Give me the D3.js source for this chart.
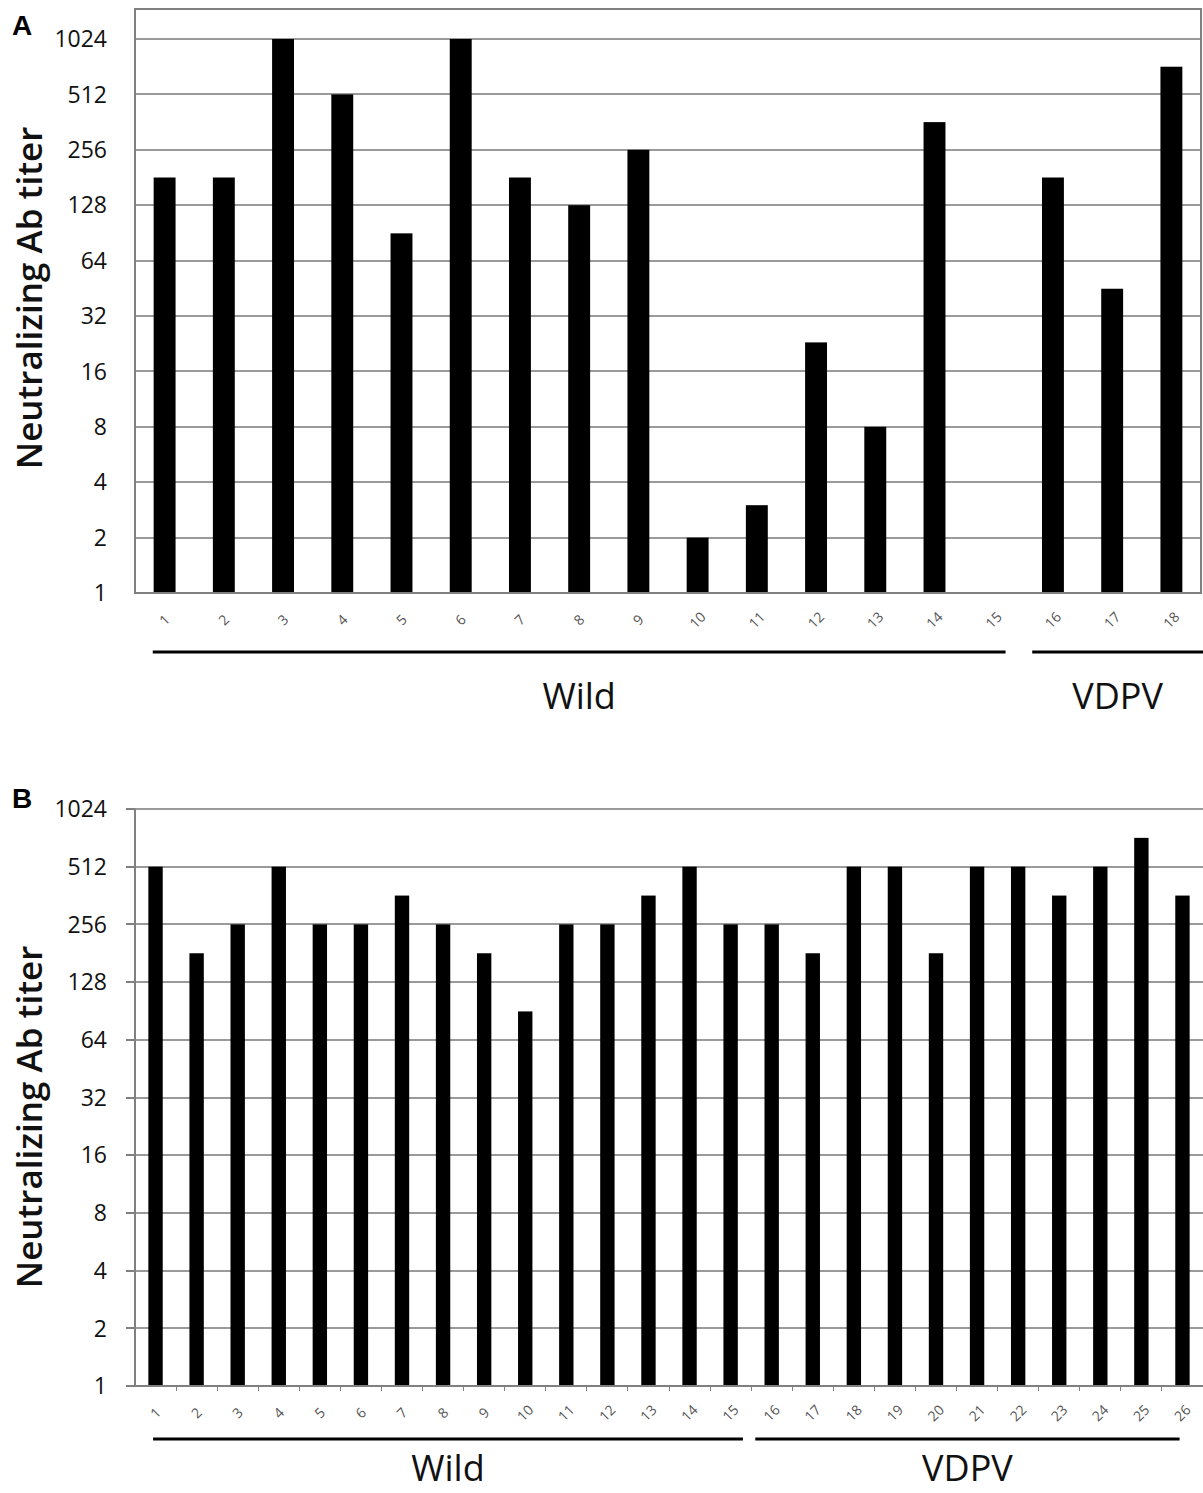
<!DOCTYPE html>
<html>
  <head>
    <meta charset="utf-8">
    <title>Neutralizing Ab titer</title>
    <script type="text/javascript" src="https://cdn.jsdelivr.net/npm/d3@7"></script>
    <style type="text/css">

body {
  margin: 0;
  background: #fff;
}

svg {
  display: block;
  font-family: "Open Sans", sans-serif;
}

.grid line {
  stroke: #9a9a9a;
  stroke-width: 2px;
  shape-rendering: crispEdges;
}

.frame {
  fill: none;
  stroke: #808080;
  stroke-width: 2px;
  shape-rendering: crispEdges;
}

.bar {
  fill: #000;
}

.ytick {
  font-size: 23px;
  fill: #111;
}

.xtick {
  font-size: 14px;
  fill: #555;
}

.ytitle {
  font-size: 35px;
  font-weight: 600;
  fill: #111;
}

.panel {
  font-family: "Liberation Sans", Arial, sans-serif;
  font-size: 28px;
  font-weight: bold;
}

.group line {
  stroke: #000;
  stroke-width: 3px;
}

.group text {
  font-size: 36px;
  fill: #111;
}

    </style>
  </head>
  <body>
    <script type="text/javascript">

// panel A
var catsA = d3.range(1, 19);
var titersA = [181, 181, 1024, 512, 90, 1024, 181, 128, 256, 2, 3, 23, 8, 362, 1, 181, 45, 724];
var groupsA = [
  {label: "Wild", from: 0.8, to: 15.2},
  {label: "VDPV", from: 15.65, to: 18.55}
];

// panel B
var catsB = d3.range(1, 27);
var titersB = [512, 181, 256, 512, 256, 256, 362, 256, 181, 90, 256, 256, 362, 512, 256,
               256, 181, 512, 512, 181, 512, 512, 362, 512, 724, 362];
var groupsB = [
  {label: "Wild", from: 0.94, to: 15.3},
  {label: "VDPV", from: 15.6, to: 25.93}
];

var yTicks = [1, 2, 4, 8, 16, 32, 64, 128, 256, 512, 1024];

var W = 1203, H = 1493;

var svg = d3.select("body")
  .append("svg")
    .attr("width", W)
    .attr("height", H);

function panel(opt) {
  var g = svg.append("g");

  var x = d3.scaleBand()
      .domain(opt.cats)
      .range([opt.left, opt.right])
      .paddingInner(opt.pad)
      .paddingOuter(opt.pad / 2);

  // category index (1-based, at band centres) -> x
  var xi = d3.scaleLinear()
      .domain([1, opt.cats.length])
      .range([x(1) + x.bandwidth() / 2, x(opt.cats.length) + x.bandwidth() / 2]);

  var y = d3.scaleLog()
      .base(2)
      .domain([1, 1024])
      .range([opt.bottom, opt.y1024]);

  g.append("g")
      .attr("class", "grid")
    .selectAll("line")
      .data(yTicks.slice(1))
    .enter().append("line")
      .attr("x1", opt.left - opt.tick)
      .attr("x2", opt.right)
      .attr("y1", function(d) { return y(d); })
      .attr("y2", function(d) { return y(d); });

  g.selectAll("rect.bar")
      .data(opt.cats)
    .enter().append("rect")
      .attr("class", "bar")
      .attr("x", function(d) { return x(d); })
      .attr("width", x.bandwidth())
      .attr("y", function(d, i) { return y(opt.values[i]); })
      .attr("height", function(d, i) { return opt.bottom - y(opt.values[i]); });

  if (opt.box) {
    g.append("rect")
        .attr("class", "frame")
        .attr("x", opt.left)
        .attr("y", opt.top)
        .attr("width", opt.right - opt.left)
        .attr("height", opt.bottom - opt.top);
  } else {
    g.append("path")
        .attr("class", "frame")
        .attr("d", "M" + opt.left + "," + opt.top + "V" + opt.bottom + "H" + opt.right);
    // y tick marks
    g.selectAll("line.yt")
        .data(yTicks)
      .enter().append("line")
        .attr("class", "frame")
        .attr("x1", opt.left - opt.tick)
        .attr("x2", opt.left)
        .attr("y1", function(d) { return y(d); })
        .attr("y2", function(d) { return y(d); });
    // x tick marks at category boundaries
    g.selectAll("line.xt")
        .data(opt.cats)
      .enter().append("line")
        .attr("class", "frame")
        .style("stroke-width", "1px")
        .attr("x1", function(d) { return x(d) + x.bandwidth() + x.step() * opt.pad / 2; })
        .attr("x2", function(d) { return x(d) + x.bandwidth() + x.step() * opt.pad / 2; })
        .attr("y1", opt.bottom)
        .attr("y2", opt.bottom + 5);
  }

  g.selectAll("text.ytick")
      .data(yTicks)
    .enter().append("text")
      .attr("class", "ytick")
      .attr("x", opt.left - 28)
      .attr("y", function(d) { return y(d); })
      .attr("dy", ".36em")
      .attr("text-anchor", "end")
      .text(function(d) { return d; });

  g.selectAll("text.xtick")
      .data(opt.cats)
    .enter().append("text")
      .attr("class", "xtick")
      .attr("text-anchor", "middle")
      .attr("transform", function(d) {
        return "translate(" + (x(d) + x.bandwidth() / 2) + "," + (opt.bottom + 27) + ") rotate(-45)";
      })
      .attr("dy", ".35em")
      .text(function(d) { return d; });

  g.append("text")
      .attr("class", "ytitle")
      .attr("text-anchor", "middle")
      .attr("transform", "translate(" + 30 + "," + opt.titleY + ") rotate(-90)")
      .attr("dy", ".35em")
      .text("Neutralizing Ab titer");

  g.append("text")
      .attr("class", "panel")
      .attr("x", 12)
      .attr("y", opt.letterY)
      .text(opt.letter);

  var grp = g.selectAll("g.group")
      .data(opt.groups)
    .enter().append("g")
      .attr("class", "group");

  grp.append("line")
      .attr("x1", function(d) { return xi(d.from); })
      .attr("x2", function(d) { return Math.min(W, xi(d.to)); })
      .attr("y1", opt.lineY)
      .attr("y2", opt.lineY);

  grp.append("text")
      .attr("text-anchor", "middle")
      .attr("x", function(d) { return (xi(d.from) + Math.min(W, xi(d.to))) / 2; })
      .attr("y", opt.labelY)
      .text(function(d) { return d.label; });
}

panel({
  letter: "A", letterY: 35,
  cats: catsA, values: titersA, groups: groupsA,
  left: 135, right: 1201, top: 9, y1024: 39, bottom: 593,
  pad: 0.63, box: true, tick: 0,
  titleY: 298, lineY: 652, labelY: 709
});

panel({
  letter: "B", letterY: 808,
  cats: catsB, values: titersB, groups: groupsB,
  left: 135, right: 1203, top: 809, y1024: 809, bottom: 1386,
  pad: 0.65, box: false, tick: 9,
  titleY: 1117, lineY: 1439, labelY: 1481
});

    </script>
  </body>
</html>
